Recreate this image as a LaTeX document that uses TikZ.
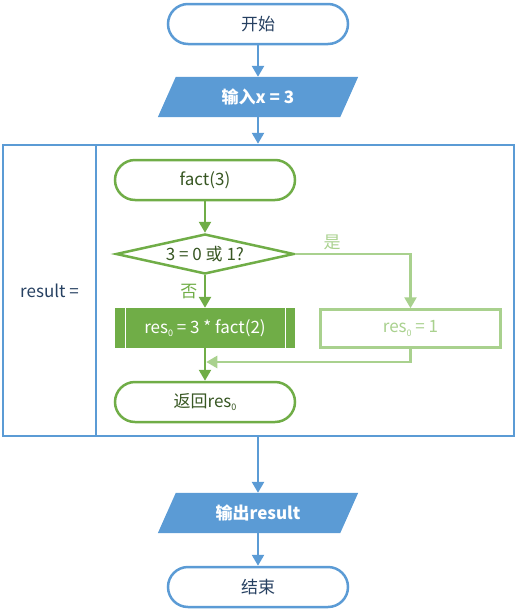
\documentclass[tikz,border=0pt]{standalone}
\usepackage{fontspec}
\setmainfont{Noto Sans CJK SC}
\usetikzlibrary{arrows.meta,positioning,calc,shapes.geometric,backgrounds}
\definecolor{FlowBlue}{RGB}{91,155,213}
\definecolor{InkBlue}{RGB}{38,64,97}
\definecolor{FlowGreen}{RGB}{112,173,71}
\definecolor{PaleGreen}{RGB}{169,209,142}
\definecolor{InkGreen}{RGB}{56,87,35}
\newcommand{\lowidx}[1]{\raisebox{-0.35ex}{\fontsize{9}{9}\selectfont #1}}
\tikzset{
  flow/.style={-{Triangle[length=11pt,width=12pt]}, line width=2.5pt, draw=FlowBlue},
  gflow/.style={-{Triangle[length=11pt,width=12pt]}, line width=2.5pt, draw=FlowGreen},
  pflow/.style={-{Triangle[length=11pt,width=12pt]}, line width=2.5pt, draw=PaleGreen},
  txt/.style={font=\fontsize{17}{20}\selectfont},
  boldtxt/.style={font=\fontsize{17}{20}\selectfont\bfseries},
  term/.style={txt, draw=FlowBlue, line width=2.5pt, rounded corners=20pt,
    fill=white, minimum width=180pt, minimum height=40pt, text=InkBlue},
  gterm/.style={term, draw=FlowGreen, text=InkGreen},
  io/.style={boldtxt, minimum width=182pt, minimum height=40pt, text=white},
  framebox/.style={txt, draw=FlowBlue, line width=2.5pt, text=InkBlue},
  test/.style={txt, diamond, aspect=4.3, inner sep=0pt, draw=FlowGreen,
    line width=2.5pt, fill=white, minimum width=178pt, minimum height=40pt,
    text=InkGreen},
  proc/.style={txt, fill=FlowGreen, minimum width=180pt, minimum height=40pt,
    text=white},
  leaf/.style={txt, draw=PaleGreen, line width=2.5pt, fill=white,
    minimum width=180pt, minimum height=38pt, text=PaleGreen},
}

\begin{document}
\begin{tikzpicture}[x=1pt,y=-1pt]
\useasboundingbox (0,0) rectangle (516,611);

% ---- Frame ----
\node[framebox, minimum width=93pt, minimum height=291pt] (leftcol) at (49.5,290.5) {result =};
\node[framebox, minimum width=418pt, minimum height=291pt] (body) at (305,290.5) {};

% ---- Main flow ----
\node[term] (start) at (258,24) {开始};
\node[io] (input) at (258,97) {输入x = 3};
\node[io] (output) at (258,513) {输出result};
\node[term] (stop) at (258,587) {结束};

\begin{scope}[on background layer]
  \foreach \n in {input,output}
    \fill[FlowBlue] ($(\n.south west)+(-9,0)$) -- ($(\n.south east)+(-9,0)$)
      -- ($(\n.north east)+(9,0)$) -- ($(\n.north west)+(9,0)$) -- cycle;
\end{scope}

% ---- Recursive call ----
\node[gterm] (call) at (205,180) {fact(3)};
\node[test] (check) at (205,254) {3 = 0 或 1?};
\node[proc] (recur) at (205,328) {res\lowidx{0} = 3 * fact(2)};
\draw[white, line width=1pt]
  ($(recur.north west)+(11,0)$) -- ($(recur.south west)+(11,0)$)
  ($(recur.north east)+(-10,0)$) -- ($(recur.south east)+(-10,0)$);
\node[leaf] (base) at (410.5,328.5) {res\lowidx{0} = 1};
\node[gterm] (ret) at (205,402) {返回res\lowidx{0}};
\coordinate (merge) at (205,362);

% ---- Arrows ----
\draw[flow] (start) -- (input);
\draw[flow] (input) -- (input.south |- body.north);
\draw[flow] (output.north |- body.south) -- (output);
\draw[flow] (output) -- (stop);

\draw[gflow] (call) -- (check);
\draw[gflow] (check) -- node[txt, midway, left=3pt, text=FlowGreen] {否} (recur);
\draw[pflow] (check) -| node[txt, pos=0.16, above, text=PaleGreen] {是} (base);
\draw[gflow] (recur) -- (ret);
\draw[pflow, shorten >=1.25pt] (base) |- (merge);

\end{tikzpicture}
\end{document}
